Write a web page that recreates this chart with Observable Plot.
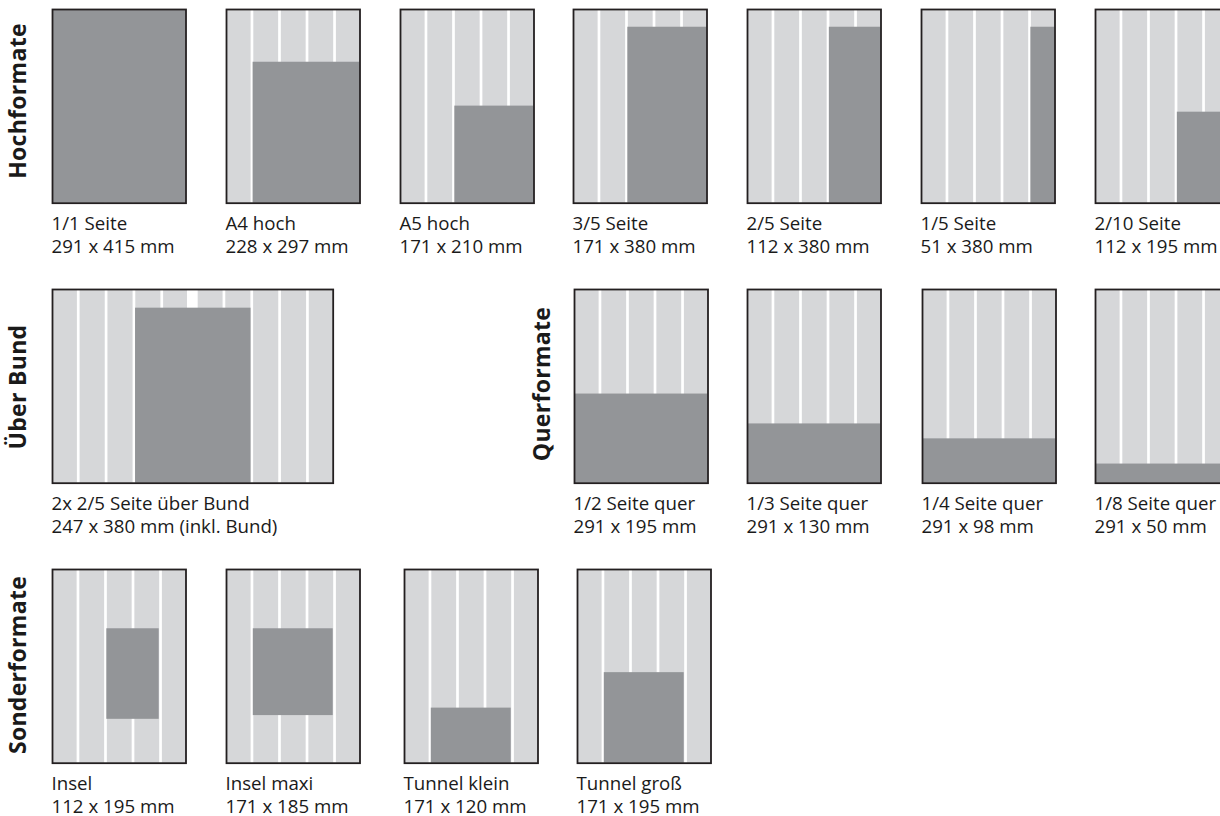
<!DOCTYPE html>
<html>
<head>
<meta charset="utf-8">
<script src="https://cdn.jsdelivr.net/npm/d3@7"></script>
<script src="https://cdn.jsdelivr.net/npm/@observablehq/plot@0.6"></script>
<style>
html, body { margin: 0; padding: 0; width: 1220px; height: 816px; overflow: hidden; background: #fff; }
#stage { position: relative; width: 1220px; height: 816px; overflow: hidden; }
.slot { position: absolute; }
.slot svg { max-width: none !important; overflow: visible; background: transparent !important; display: block; }
.group-title {
  position: absolute; font-family: "Open Sans"; font-weight: 700; font-size: 23px; line-height: 23px;
  letter-spacing: 0.3px; white-space: nowrap; color: #1a1a1a; transform: translate(-50%, -50%) rotate(-90deg);
}
</style>
</head>
<body>
<div id="stage"></div>
<script>
// ---------- data (mm) ----------
const pageWidthMm = 291;
const pageHeightMm = 415;
const bundMm = 23;
const columnGutters = [55.5, 115.5, 175.5, 235.5];

const groupTitles = ["Hochformate", "Über Bund", "Querformate", "Sonderformate"];

const formatNames = [
  "1/1 Seite", "A4 hoch", "A5 hoch", "3/5 Seite", "2/5 Seite", "1/5 Seite", "2/10 Seite",
  "2x 2/5 Seite über Bund",
  "1/2 Seite quer", "1/3 Seite quer", "1/4 Seite quer", "1/8 Seite quer",
  "Insel", "Insel maxi", "Tunnel klein", "Tunnel groß"
];
const formatSizes = [
  "291 x 415 mm", "228 x 297 mm", "171 x 210 mm", "171 x 380 mm", "112 x 380 mm", "51 x 380 mm", "112 x 195 mm",
  "247 x 380 mm (inkl. Bund)",
  "291 x 195 mm", "291 x 130 mm", "291 x 98 mm", "291 x 50 mm",
  "112 x 195 mm", "171 x 185 mm", "171 x 120 mm", "171 x 195 mm"
];
const formatPages = [1, 1, 1, 1, 1, 1, 1, 2, 1, 1, 1, 1, 1, 1, 1, 1];
// ad area as drawn on the page (mm, origin bottom-left)
const adX1 = [0, 58, 118.4, 118.4, 178.4, 238.4, 178.4, 179, 0, 0, 0, 0, 118.4, 58.4, 58.4, 58.4];
const adX2 = [291, 291, 291, 291, 291, 291, 291, 428, 291, 291, 291, 291, 232.6, 232.6, 232.6, 232.6];
const adY1 = [0, 0, 0, 0, 0, 0, 0, 0, 0, 0, 0, 0, 94, 102, 0, 0];
const adY2 = [415, 302, 208, 377, 377, 377, 195, 375, 191, 127, 95, 41, 288, 288, 118, 194];

// ---------- layout (page positions of each diagram, px) ----------
const slotLeft = [51, 225, 399, 572.5, 746, 920.5, 1094.3, 51, 572.6, 746.5, 920.6, 1094.3, 50.7, 225, 402.7, 576];
const slotTop  = [8.3, 8.3, 8.3, 8.3, 8.3, 8.3, 8.3, 288.3, 288.3, 288.3, 288.3, 288.3, 567.7, 567.7, 567.7, 567.7];
const titleCX = [17.4, 17.4, 540.8, 17.4];
const titleCY = [101, 386.5, 384, 665];

const colorLight = "#d6d7d9";
const colorDark = "#939598";
const colorFrame = "#231f20";
const strokeW = 1.8;
const m = 2;
const labelSpace = 58;

const stage = document.getElementById("stage");

formatNames.forEach((name, i) => {
  const pages = formatPages[i];
  const xMax = pages * pageWidthMm + (pages - 1) * bundMm;
  const outerW = pages === 2 ? 282.5 : 135.3;
  const outerH = 195.5;
  const innerW = outerW - strokeW;
  const innerH = outerH - strokeW;
  const gutters = [];
  for (let p = 0; p < pages; ++p) columnGutters.forEach(g => gutters.push(g + p * (pageWidthMm + bundMm)));
  const bund = [];
  for (let p = 1; p < pages; ++p) bund.push({x1: p * pageWidthMm + (p - 1) * bundMm, x2: p * (pageWidthMm + bundMm)});

  const chart = Plot.plot({
    width: innerW + 2 * m,
    height: innerH + m + labelSpace,
    marginLeft: m, marginRight: m, marginTop: m, marginBottom: labelSpace,
    x: {domain: [0, xMax], axis: null},
    y: {domain: [0, pageHeightMm], axis: null},
    marks: [
      Plot.frame({fill: colorLight, stroke: null}),
      Plot.ruleX(gutters, {stroke: "white", strokeWidth: 2.7}),
      Plot.rect(bund, {x1: "x1", x2: "x2", y1: 0, y2: pageHeightMm, fill: "white"}),
      Plot.rect([i], {x1: j => adX1[j], x2: j => adX2[j], y1: j => adY1[j], y2: j => adY2[j], fill: colorDark}),
      Plot.frame({stroke: colorFrame, strokeWidth: strokeW}),
      Plot.text([name + "\n" + formatSizes[i]], {
        frameAnchor: "bottom-left", textAnchor: "start", lineAnchor: "bottom",
        dx: -1, dy: 49.5, lineHeight: 23 / 18.7, fontSize: 18.7,
        fontFamily: "Open Sans", fill: "#1a1a1a"
      })
    ]
  });
  const div = document.createElement("div");
  div.className = "slot";
  div.style.left = (slotLeft[i] + strokeW / 2 - m) + "px";
  div.style.top = (slotTop[i] + strokeW / 2 - m) + "px";
  div.appendChild(chart);
  stage.appendChild(div);
});

groupTitles.forEach((t, k) => {
  const d = document.createElement("div");
  d.className = "group-title";
  d.textContent = t;
  d.style.left = titleCX[k] + "px";
  d.style.top = titleCY[k] + "px";
  stage.appendChild(d);
});
</script>
</body>
</html>
